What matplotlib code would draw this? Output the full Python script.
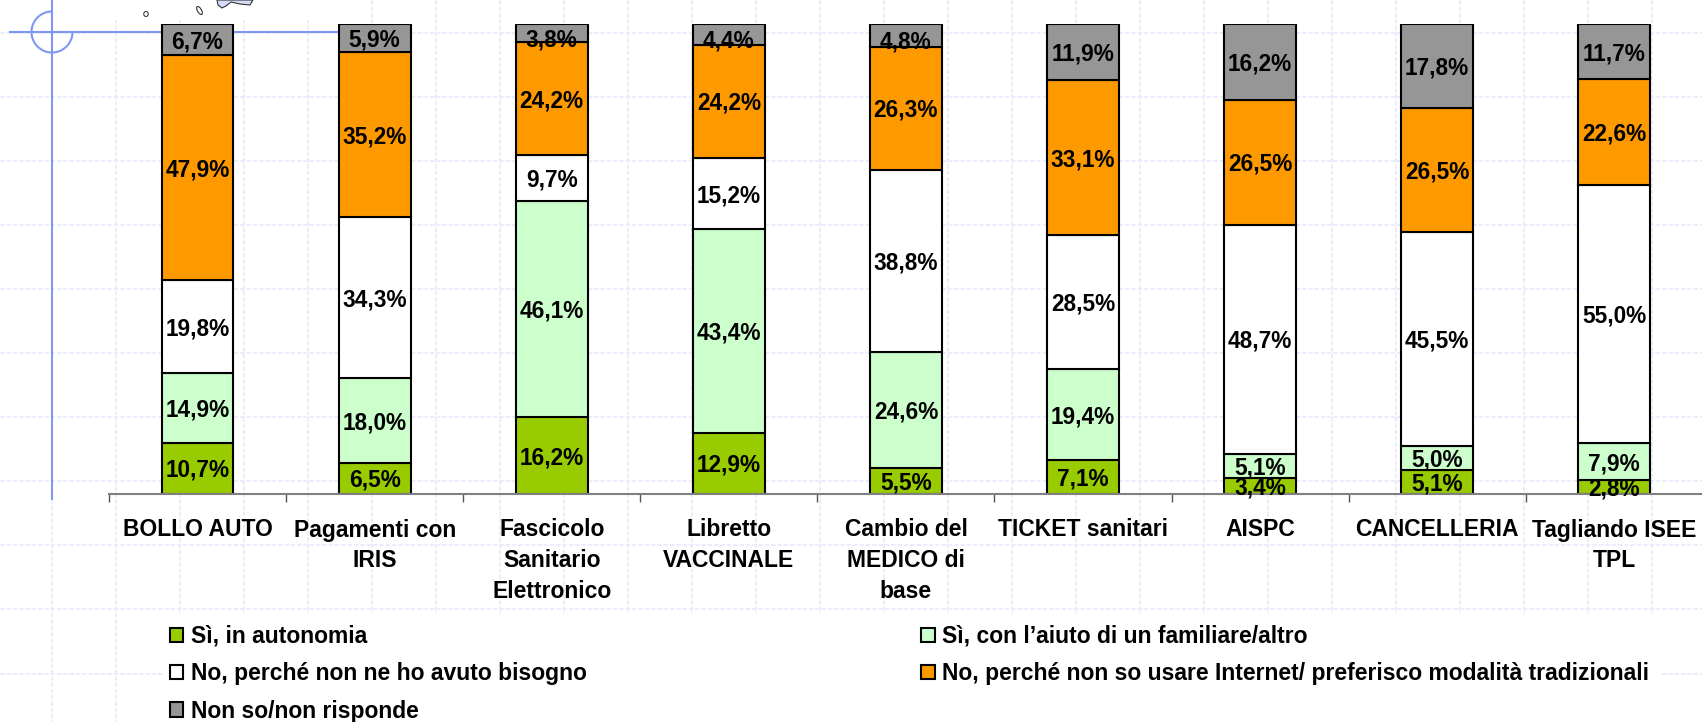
import matplotlib
matplotlib.use('Agg')
import matplotlib.pyplot as plt
import numpy as np
from matplotlib.patches import Arc, Ellipse, Patch, Polygon, Rectangle

plt.rcParams['font.family'] = ['Liberation Sans', 'DejaVu Sans']

categories = ['BOLLO AUTO', 'Pagamenti con\nIRIS', 'Fascicolo\nSanitario\nElettronico',
              'Libretto\nVACCINALE', 'Cambio del\nMEDICO di\nbase', 'TICKET sanitari',
              'AISPC', 'CANCELLERIA', 'Tagliando ISEE\nTPL']

si_autonomia = [10.7, 6.5, 16.2, 12.9, 5.5, 7.1, 3.4, 5.1, 2.8]
si_aiuto = [14.9, 18.0, 46.1, 43.4, 24.6, 19.4, 5.1, 5.0, 7.9]
no_bisogno = [19.8, 34.3, 9.7, 15.2, 38.8, 28.5, 48.7, 45.5, 55.0]
no_internet = [47.9, 35.2, 24.2, 24.2, 26.3, 33.1, 26.5, 26.5, 22.6]
non_so = [6.7, 5.9, 3.8, 4.4, 4.8, 11.9, 16.2, 17.8, 11.7]

series_names = ['Sì, in autonomia', 'Sì, con l’aiuto di un familiare/altro',
                'No, perché non ne ho avuto bisogno',
                'No, perché non so usare Internet/ preferisco modalità tradizionali',
                'Non so/non risponde']
series_values = [si_autonomia, si_aiuto, no_bisogno, no_internet, non_so]
colors = ['#99CC00', '#CCFFCC', '#FFFFFF', '#FF9900', '#969696']

W, H = 1702, 722
fig = plt.figure(figsize=(W / 100, H / 100), dpi=100)

# slide background drawn in pixel coordinates
bg = fig.add_axes([0, 0, 1, 1], zorder=0)
bg.set_xlim(0, W)
bg.set_ylim(H, 0)
bg.axis('off')
grid_color = '#E8ECFC'
for gy in np.arange(32.5, H, 64.1):
    bg.plot([0, W], [gy, gy], color=grid_color, lw=1.3, ls=(0, (2.5, 1)))
for gx in np.arange(52, W, 64):
    bg.plot([gx, gx], [0, H], color=grid_color, lw=1.3, ls=(0, (2.5, 1)))
bg.add_patch(Rectangle((60, 0), 300, 20, fc='white', ec='none', zorder=2))
# white box behind the legend hides the grid there
bg.add_patch(Rectangle((163, 614), 1497, 108, fc='white', ec='none', zorder=2))
blue = '#7F96F2'
bg.plot([10, 340], [32, 32], color=blue, lw=1.5, zorder=3)
bg.plot([52, 52], [0, 499], color=blue, lw=1.5, zorder=3)
bg.add_patch(Arc((52, 32), 41, 41, theta1=0, theta2=270, color=blue, lw=1.5, zorder=3))
# bits of the map cut by the top of the slide
bg.add_patch(Ellipse((146, 14), 4.5, 5, fc='white', ec='#444444', lw=0.8, zorder=3))
bg.add_patch(Ellipse((199.5, 10.5), 4, 9, angle=-30, fc='white', ec='#333333', lw=0.8, zorder=3))
bg.add_patch(Polygon([(217, 0), (218, 5), (222, 8), (226, 6), (231, 2), (240, 4), (250, 5), (253, 0)],
                     fc='#D5DCFA', ec='#333333', lw=0.8, zorder=3))

left, base, top, step = 109, 493.5, 24, 177.1
ax = fig.add_axes([left / W, 1 - base / H, 9 * step / W, (base - top) / H], zorder=1)
ax.patch.set_alpha(0)

x = np.arange(len(categories))
values = np.array(series_values)
shares = values / values.sum(axis=0) * 100
bottom = np.zeros(len(categories))
for i in range(len(series_names)):
    bars = ax.bar(x, shares[i], 0.405, bottom=bottom, color=colors[i], edgecolor='black', linewidth=1.5)
    labels = [f'{v:.1f}%'.replace('.', ',') for v in values[i]]
    texts = ax.bar_label(bars, labels=labels, label_type='center', fontsize=16.3, fontweight='bold', color='black')
    for t, v in zip(texts, values[i]):
        # thin top segments have their label pushed lower in the original
        t.xyann = (0, -5 if (i == 4 and v < 5) else -1.5)
    bottom += shares[i]

ax.set_xlim(-0.5, 8.5)
ax.set_ylim(0, 100)
ax.set_yticks([])
for s in ['left', 'right', 'top']:
    ax.spines[s].set_visible(False)
ax.spines['bottom'].set_color('#808080')
ax.spines['bottom'].set_linewidth(1.5)
ax.set_xticks(np.arange(-0.5, 9), [''] * 10)
ax.tick_params(axis='x', which='major', length=6, width=1, color='#555555')
ax.set_xticks(x, minor=True)
ax.set_xticklabels(categories, minor=True, fontsize=16.5, fontweight='bold', linespacing=1.44)
ax.tick_params(axis='x', which='minor', length=0, pad=18)

handles = [Patch(fc=colors[i], ec='black', lw=1.5) for i in [0, 2, 4, 1, 3]]
names = [series_names[i] for i in [0, 2, 4, 1, 3]]
leg = fig.legend(handles, names, ncol=2, loc='lower left', bbox_to_anchor=(167 / W, -3.5 / H),
                 bbox_transform=fig.transFigure, prop={'size': 16.5, 'weight': 'bold'},
                 handlelength=0.59, handleheight=0.59, handletextpad=0.32,
                 labelspacing=0.63, columnspacing=14.6, borderpad=0.12, borderaxespad=0,
                 frameon=False)

fig.savefig('out.png', dpi=100)
